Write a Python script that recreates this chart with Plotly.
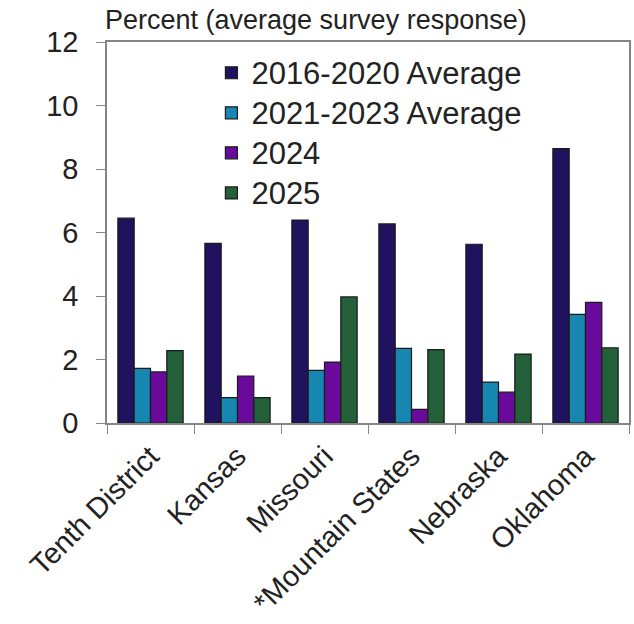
import plotly.graph_objects as go

# Survey categories along the x-axis
regions = ["Tenth District", "Kansas", "Missouri", "*Mountain States", "Nebraska", "Oklahoma"]

# Average survey response (percent) per period
avg_2016_2020 = [6.45, 5.66, 6.39, 6.27, 5.63, 8.64]
avg_2021_2023 = [1.72, 0.80, 1.66, 2.35, 1.29, 3.42]
yr_2024 = [1.61, 1.48, 1.92, 0.43, 0.97, 3.80]
yr_2025 = [2.28, 0.80, 3.97, 2.31, 2.17, 2.37]

series_names = ["2016-2020 Average", "2021-2023 Average", "2024", "2025"]
series_values = [avg_2016_2020, avg_2021_2023, yr_2024, yr_2025]
series_colors = ["#21125F", "#1787B2", "#6A0A9C", "#23603A"]

y_ticks = [0, 2, 4, 6, 8, 10, 12]

FONT = "Liberation Sans, Arial, sans-serif"
TEXT = "#222222"
AXIS = "#858585"

fig = go.Figure()
for name, vals, color in zip(series_names, series_values, series_colors):
    fig.add_trace(go.Bar(
        x=regions, y=vals,
        # legend rows keep a compact spacing while the label itself is larger
        name=f'<span style="font-size:31px">{name}</span>',
        marker=dict(color=color, line=dict(color="#1a1a1a", width=1.2)),
    ))

fig.update_layout(
    width=634, height=624,
    margin=dict(l=107, r=5, t=42, b=201),
    paper_bgcolor="white", plot_bgcolor="white",
    barmode="group", bargap=0.25, bargroupgap=0,
    font=dict(family=FONT, color=TEXT, size=27),
    showlegend=True,
    legend=dict(
        x=0.2, y=0.985, xanchor="left", yanchor="top",
        bgcolor="rgba(0,0,0,0)", font=dict(size=28.5, color=TEXT),
    ),
    annotations=[dict(
        text="Percent (average survey response)", xref="paper", yref="paper",
        x=0, y=1, xanchor="left", yanchor="bottom", yshift=5, xshift=-4,
        showarrow=False, font=dict(size=27, color=TEXT, family=FONT),
    )],
)

fig.update_yaxes(
    range=[0, 12], tickvals=y_ticks, ticks="outside", ticklen=9, tickwidth=1,
    tickcolor=AXIS, showline=True, linecolor=AXIS, linewidth=1.5, mirror=True,
    showgrid=False, zeroline=False, ticklabelstandoff=12, automargin=False,
    tickfont=dict(size=29, color=TEXT),
)
fig.update_xaxes(
    ticks="outside", ticklen=9, tickwidth=1, tickcolor=AXIS, tickson="boundaries",
    showline=True, linecolor=AXIS, linewidth=1.5, mirror=True, automargin=False,
    showgrid=False, tickangle=-45, ticklabelstandoff=3,
    tickfont=dict(size=29, color=TEXT),
)

fig.write_html("out.html")
